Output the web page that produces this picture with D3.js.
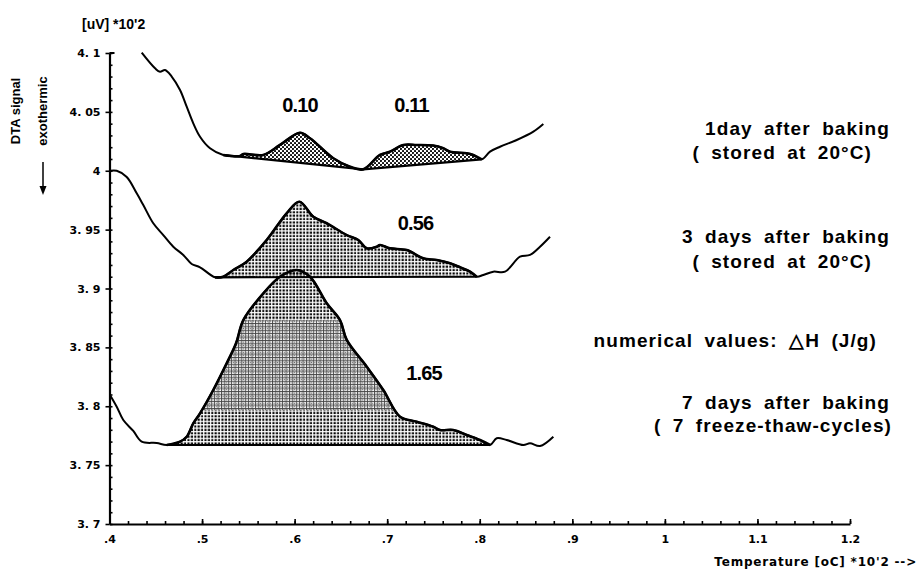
<!DOCTYPE html>
<html>
<head>
<meta charset="utf-8">
<script src="https://cdn.jsdelivr.net/npm/d3@7"></script>
<style>
  body { margin: 0; background: #fff; }
  svg { display: block; }
  text { font-family: "Liberation Sans", Arial, sans-serif; fill: #000; }
</style>
</head>
<body>
<div id="chart"></div>
<script>
const width = 918;
const height = 569;

// axis ticks
const yTicks = [4.1, 4.05, 4.0, 3.95, 3.9, 3.85, 3.8, 3.75, 3.7];
const yTickLabels = ["4. 1", "4. 05", "4", "3. 95", "3. 9", "3. 85", "3. 8", "3. 75", "3. 7"];
const xTicks = [0.4, 0.5, 0.6, 0.7, 0.8, 0.9, 1.0, 1.1, 1.2];
const xTickLabels = [".4", ".5", ".6", ".7", ".8", ".9", "1", "1.1", "1.2"];

// DTA curves [temperature *10^2, signal *10^2]
const day1 = [
  [0.4348, 4.1003], [0.4492, 4.087], [0.4546, 4.084], [0.4600, 4.0856], [0.4672, 4.080],
  [0.4762, 4.0686], [0.4834, 4.0544], [0.4905, 4.0403], [0.4978, 4.0289], [0.5086, 4.0191],
  [0.5229, 4.0134], [0.5410, 4.0125], [0.5446, 4.0142], [0.5662, 4.0134], [0.5842, 4.0219],
  [0.6058, 4.0323], [0.6166, 4.0276], [0.6418, 4.0106], [0.6598, 4.0034], [0.6742, 4.0012],
  [0.6922, 4.0134], [0.7030, 4.0162], [0.7174, 4.0219], [0.7319, 4.0219], [0.7495, 4.0214],
  [0.7606, 4.0191], [0.7679, 4.0162], [0.7859, 4.0148], [0.7930, 4.0134], [0.8021, 4.0097],
  [0.8111, 4.0162], [0.8219, 4.0204], [0.8399, 4.0261], [0.8579, 4.0332], [0.8687, 4.0397]
];
const day3 = [
  [0.4005, 4.0000], [0.4078, 4.0000], [0.4186, 3.9947], [0.4294, 3.9808], [0.4365, 3.9709],
  [0.4473, 3.9554], [0.4581, 3.9454], [0.4689, 3.9355], [0.4797, 3.9285], [0.4888, 3.9208],
  [0.4978, 3.9180], [0.5140, 3.9095], [0.5229, 3.9100], [0.5337, 3.9157], [0.5482, 3.9228],
  [0.5698, 3.9412], [0.5914, 3.9639], [0.6051, 3.9737], [0.6202, 3.9610], [0.6347, 3.9554],
  [0.6563, 3.9454], [0.6688, 3.9412], [0.6779, 3.9341], [0.6887, 3.9355], [0.6922, 3.9369],
  [0.7030, 3.9341], [0.7211, 3.9327], [0.7390, 3.9256], [0.7535, 3.9242], [0.7679, 3.9214],
  [0.7787, 3.9180], [0.7895, 3.9143], [0.7967, 3.9100], [0.8038, 3.9115], [0.8146, 3.9143],
  [0.8273, 3.9143], [0.8435, 3.9270], [0.8543, 3.9285], [0.8651, 3.9355], [0.8759, 3.9440]
];
const day7 = [
  [0.4005, 3.8096], [0.4078, 3.7996], [0.4149, 3.7883], [0.4257, 3.7790], [0.4348, 3.7699],
  [0.4510, 3.7688], [0.4618, 3.7671], [0.4762, 3.7699], [0.4834, 3.7741], [0.4905, 3.7855],
  [0.4978, 3.7940], [0.5121, 3.8138], [0.5266, 3.8365], [0.5367, 3.8535], [0.5446, 3.8732],
  [0.5662, 3.8959], [0.5842, 3.9100], [0.6022, 3.9157], [0.6166, 3.9100], [0.6347, 3.8874],
  [0.6490, 3.8732], [0.6563, 3.8563], [0.6779, 3.8336], [0.6958, 3.8138], [0.7139, 3.7911],
  [0.7319, 3.7869], [0.7498, 3.7826], [0.7571, 3.7798], [0.7714, 3.7798], [0.7859, 3.7756],
  [0.8003, 3.7713], [0.8111, 3.7671], [0.8183, 3.7728], [0.8291, 3.7713], [0.8471, 3.7671],
  [0.8543, 3.7685], [0.8651, 3.7662], [0.8795, 3.7741]
];

// baselines under the peaks
const base1 = [[0.5229, 4.0134], [0.6742, 4.0012], [0.8021, 4.0097]];
const base3d = [[0.5140, 3.9095], [0.7967, 3.9100]];
const base7 = [[0.4618, 3.7671], [0.8111, 3.7671]];
const darkBand = [3.797, 3.873]; // denser screen on the 7-day peak

// enthalpy labels
const peakLabels = [
  { text: "0.10", x: 0.6058, y: 4.0558 },
  { text: "0.11", x: 0.7263, y: 4.0558 },
  { text: "0.56", x: 0.7306, y: 3.9556 },
  { text: "1.65", x: 0.7398, y: 3.8282 }
];

const svg = d3.select("#chart")
  .append("svg")
  .attr("width", width)
  .attr("height", height);

const x = d3.scaleLinear().domain([0.4, 1.2]).range([109.5, 850]);
const y = d3.scaleLinear().domain([3.7, 4.1]).range([524, 53]);

// fill patterns
const defs = svg.append("defs");

const p1 = defs.append("pattern")
  .attr("id", "dots1")
  .attr("patternUnits", "userSpaceOnUse")
  .attr("width", 4).attr("height", 4);
p1.append("circle").attr("cx", 1).attr("cy", 1).attr("r", 1.05).attr("fill", "#000");
p1.append("circle").attr("cx", 3).attr("cy", 3).attr("r", 1.05).attr("fill", "#000");

const p2 = defs.append("pattern")
  .attr("id", "dots2")
  .attr("patternUnits", "userSpaceOnUse")
  .attr("width", 3.4).attr("height", 3.4);
p2.append("rect").attr("x", 0.4).attr("y", 0.4).attr("width", 2.1).attr("height", 2.1).attr("fill", "#000");

const p3 = defs.append("pattern")
  .attr("id", "dots3")
  .attr("patternUnits", "userSpaceOnUse")
  .attr("width", 3.4).attr("height", 3.4);
p3.append("rect").attr("width", 3.4).attr("height", 3.4).attr("fill", "#fff");
p3.append("rect").attr("x", 0).attr("y", 0).attr("width", 3.4).attr("height", 0.9).attr("fill", "#444");
p3.append("rect").attr("x", 0).attr("y", 0).attr("width", 0.9).attr("height", 3.4).attr("fill", "#444");
p3.append("rect").attr("x", 1.5).attr("y", 1.5).attr("width", 1.2).attr("height", 1.2).attr("fill", "#666");

defs.append("clipPath").attr("id", "bandClip")
  .append("rect")
  .attr("x", x(0.4)).attr("width", x(1.2) - x(0.4))
  .attr("y", y(darkBand[1]))
  .attr("height", y(darkBand[0]) - y(darkBand[1]));

// baseline value at a given temperature
function baseAt(base, t) {
  for (let i = 0; i < base.length - 1; i++) {
    const a = base[i], b = base[i + 1];
    if (t >= a[0] && t <= b[0]) {
      return a[1] + (b[1] - a[1]) * (t - a[0]) / (b[0] - a[0]);
    }
  }
  return base[base.length - 1][1];
}

const smooth = d3.curveCatmullRom.alpha(0.5);
const line = d3.line().x(d => x(d[0])).y(d => y(d[1])).curve(smooth);
const straight = d3.line().x(d => x(d[0])).y(d => y(d[1]));

function drawPeak(curve, base, fill, clip) {
  const lo = base[0][0], hi = base[base.length - 1][0];
  const pts = curve.filter(d => d[0] >= lo - 1e-6 && d[0] <= hi + 1e-6);
  const area = d3.area()
    .x(d => x(d[0]))
    .y0(d => y(baseAt(base, d[0])))
    .y1(d => y(d[1]))
    .curve(smooth);
  const path = svg.append("path")
    .datum(pts)
    .attr("d", area)
    .attr("fill", fill)
    .attr("stroke", "none");
  if (clip) path.attr("clip-path", clip);
  return pts;
}

function drawCurve(curve, base, fill, extra) {
  const pts = drawPeak(curve, base, fill);
  if (extra) extra();
  svg.append("path")
    .datum(curve)
    .attr("d", line)
    .attr("fill", "none")
    .attr("stroke", "#000")
    .attr("stroke-width", 2)
    .attr("stroke-linejoin", "round");
  // thicker outline around the shaded peak
  svg.append("path")
    .datum(pts)
    .attr("d", line)
    .attr("fill", "none")
    .attr("stroke", "#000")
    .attr("stroke-width", 2.6)
    .attr("stroke-linejoin", "round");
  svg.append("path")
    .datum(base)
    .attr("d", straight)
    .attr("fill", "none")
    .attr("stroke", "#000")
    .attr("stroke-width", 2.2);
}

drawCurve(day1, base1, "url(#dots1)");
drawCurve(day3, base3d, "url(#dots2)");
drawCurve(day7, base7, "url(#dots2)", () => drawPeak(day7, base7, "url(#dots3)", "url(#bandClip)"));

// axes
const yAxis = svg.append("g")
  .attr("transform", `translate(${x(0.4)},0)`)
  .call(d3.axisLeft(y).tickValues(yTicks)
    .tickFormat((d, i) => yTickLabels[i])
    .tickSize(4).tickSizeOuter(0).tickPadding(5));
yAxis.selectAll("text")
  .attr("font-size", "11px").attr("font-weight", "bold")
  .style("font-family", "'DejaVu Sans', sans-serif");

svg.append("g")
  .attr("transform", `translate(${x(0.4)},0)`)
  .call(d3.axisRight(y).ticks(40).tickSize(3).tickSizeOuter(0).tickFormat(""))
  .select(".domain").remove();

const xAxis = svg.append("g")
  .attr("transform", `translate(0,${y(3.7)})`)
  .call(d3.axisBottom(x).tickValues(xTicks)
    .tickFormat((d, i) => xTickLabels[i])
    .tickSizeInner(-5).tickSizeOuter(0).tickPadding(11));
xAxis.selectAll("text")
  .attr("font-size", "11px").attr("font-weight", "bold")
  .style("font-family", "'DejaVu Sans', sans-serif");

svg.append("g")
  .attr("transform", `translate(0,${y(3.7)})`)
  .call(d3.axisBottom(x).ticks(40).tickSizeInner(-3).tickSizeOuter(0).tickFormat(""))
  .select(".domain").remove();

svg.selectAll(".domain").attr("stroke-width", 2.2);
svg.selectAll(".tick line").attr("stroke-width", 1.6);

// top bracket of the y axis
svg.append("line")
  .attr("x1", x(0.4)).attr("x2", x(0.4) + 5)
  .attr("y1", y(4.1)).attr("y2", y(4.1))
  .attr("stroke", "#000").attr("stroke-width", 2);

// unit and axis titles
svg.append("text")
  .attr("x", 82).attr("y", 29)
  .attr("font-size", "14px").attr("font-weight", "bold")
  .text("[uV] *10'2");

svg.append("text")
  .attr("transform", "translate(20,111) rotate(-90)")
  .attr("text-anchor", "middle")
  .attr("font-size", "13px").attr("font-weight", "bold")
  .text("DTA signal");

svg.append("text")
  .attr("transform", "translate(47,111) rotate(-90)")
  .attr("text-anchor", "middle")
  .attr("font-size", "13px").attr("font-weight", "bold")
  .text("exothermic");

svg.append("line")
  .attr("x1", 43).attr("x2", 43)
  .attr("y1", 162).attr("y2", 188)
  .attr("stroke", "#000").attr("stroke-width", 1.5);
svg.append("path")
  .attr("d", "M39.5,186 L46.5,186 L43,195 Z")
  .attr("fill", "#000");

svg.append("text")
  .attr("x", 917).attr("y", 566)
  .attr("text-anchor", "end")
  .attr("font-size", "12px").attr("font-weight", "bold")
  .attr("letter-spacing", "0.8px")
  .style("font-family", "'DejaVu Sans', sans-serif")
  .text("Temperature [oC] *10'2 -->");

// enthalpy values
svg.selectAll(".peak-label")
  .data(peakLabels)
  .enter().append("text")
  .attr("class", "peak-label")
  .attr("x", d => x(d.x))
  .attr("y", d => y(d.y))
  .attr("dy", "0.35em")
  .attr("text-anchor", "middle")
  .attr("font-size", "20px").attr("font-weight", "bold")
  .attr("letter-spacing", "-0.8px")
  .text(d => d.text);

// sample descriptions
const notes = [
  { text: "1day after baking", x: 890, y: 128 },
  { text: "( stored at 20\u00B0C)", x: 872, y: 152 },
  { text: "3 days after baking", x: 890, y: 236 },
  { text: "( stored at 20\u00B0C)", x: 872, y: 261 },
  { text: "numerical values: \u25B3H (J/g)", x: 877, y: 340 },
  { text: "7 days after baking", x: 890, y: 402 },
  { text: "( 7 freeze-thaw-cycles)", x: 892, y: 425 }
];

svg.selectAll(".note")
  .data(notes)
  .enter().append("text")
  .attr("class", "note")
  .attr("x", d => d.x)
  .attr("y", d => d.y)
  .attr("dy", "0.35em")
  .attr("text-anchor", "end")
  .attr("font-size", "19px").attr("font-weight", "bold")
  .attr("letter-spacing", "1.1px")
  .attr("word-spacing", "5px")
  .text(d => d.text);
</script>
</body>
</html>
